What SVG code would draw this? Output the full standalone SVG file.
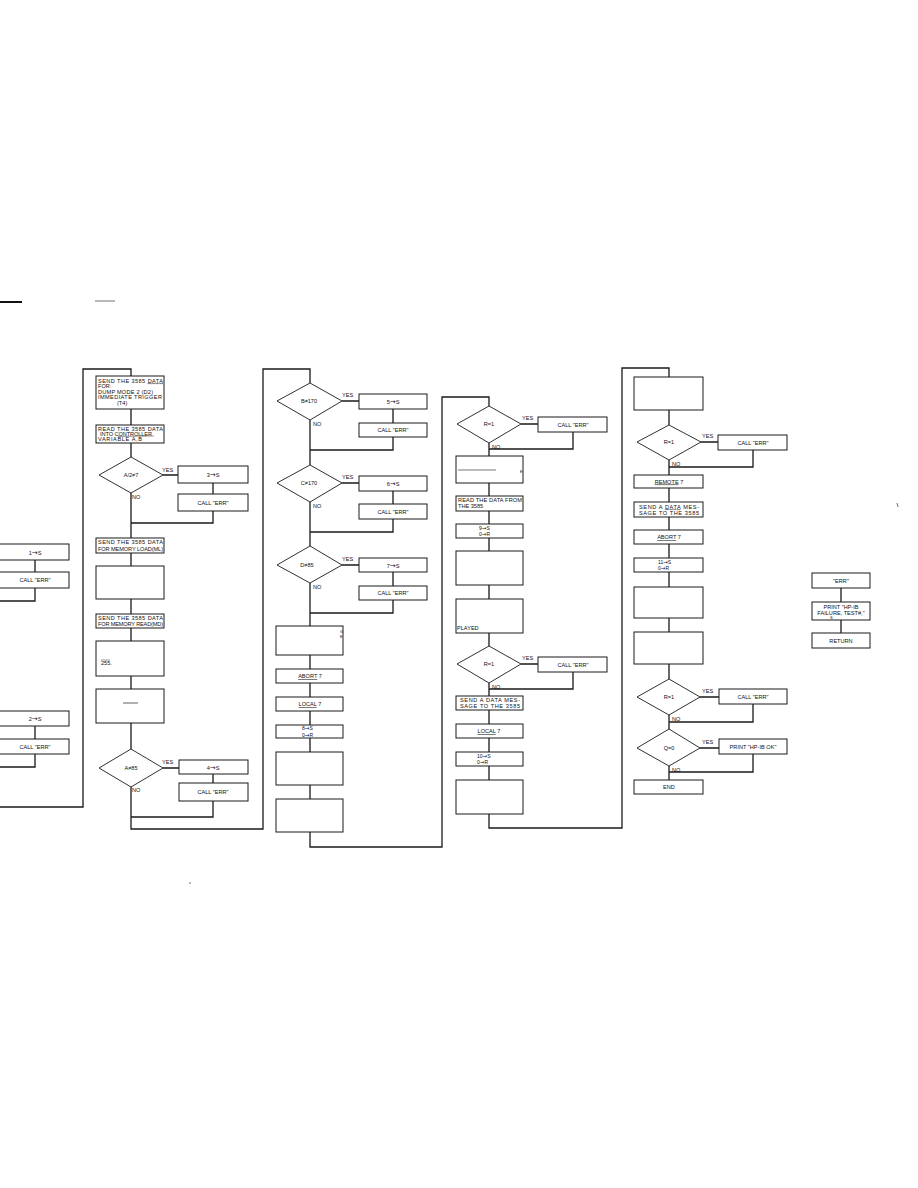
<svg xmlns="http://www.w3.org/2000/svg" width="918" height="1188" viewBox="0 0 918 1188" xml:space="preserve">
<style>
.b{fill:none;stroke:#1a1a1a;stroke-width:1}
.c{fill:none;stroke:#1a1a1a;stroke-width:1.3}
.d{fill:#fff;stroke:#1a1a1a;stroke-width:0.9}
text{font-family:"Liberation Sans",Arial,sans-serif;font-size:5.6px;fill:#111}
.m{text-anchor:middle}
.u{text-decoration:underline}
.ar{font-family:"DejaVu Sans",sans-serif;font-size:7px}
.sm{font-size:5px}
.sm .ar{font-size:5.5px}
</style>
<rect width="918" height="1188" fill="#fff"/>
<g id="marks">
<line x1="0" y1="302" x2="22" y2="302" stroke="#111" stroke-width="2"/>
<line x1="95" y1="301" x2="115" y2="301" stroke="#333" stroke-width="0.7"/>
<circle cx="190" cy="883" r="0.7" fill="#333"/>
<line x1="897" y1="503" x2="898" y2="507" stroke="#333" stroke-width="0.7"/>
</g>
<g id="connectors">
<path class="c" d="M35 560V572M35 588V601H0M35 726V739M35 754V767H0"/>
<path class="c" d="M0 807H83V369H131V376M131 409V425M131 443V457M163 475H178M213 483V494M213 511V523H131M131 493V538M131 553V566M131 599V614M131 628V641M131 676V689M131 723V749M163 768H179M213 774V783M213 801V817H131M131 787V829H263V369H310V383"/>
<path class="c" d="M342 401H359M393 409V423M393 437V450H310M310 420V465M342 483H359M393 491V504M393 519V532H310M310 502V546M342 565H359M393 572V586M393 600V613H310M310 583V626M310 655V669M310 683V697M310 711V725M310 738V752M310 785V799M310 832V847H442V397H489V406"/>
<path class="c" d="M521 424H538M573 432V449H489M489 443V456M489 483V496M489 511V524M489 538V551M489 585V599M489 633V646M521 664H538M573 672V689H489M489 683V696M489 710V724M489 738V752M489 766V780M489 814V828H622V368H669V377"/>
<path class="c" d="M669 410V425M701 442H718M753 450V467H669M669 460V475M669 488V502M669 517V530M669 544V558M669 572V587M669 618V632M669 664V679M700 697H719M753 704V722H669M669 715V729M700 748H719M753 754V772H669M669 766V780"/>
<path class="c" d="M841 588V602M841 620V633"/>
</g>
<g id="c1-s1"><rect class="b" x="-2" y="544" width="71" height="16"/><text class="m" x="35" y="554.5">1<tspan class="ar">→</tspan>S</text></g>
<g id="c1-err1"><rect class="b" x="-2" y="572" width="71" height="16"/><text class="m" x="35" y="582">CALL  "ERR"</text></g>
<g id="c1-s2"><rect class="b" x="-2" y="711" width="71" height="15"/><text class="m" x="35" y="721">2<tspan class="ar">→</tspan>S</text></g>
<g id="c1-err2"><rect class="b" x="-2" y="739" width="71" height="15"/><text class="m" x="35" y="748.5">CALL  "ERR"</text></g>

<g id="n-send-dump"><rect class="b" x="96" y="376" width="68" height="33"/>
<text x="98" y="382.5" textLength="65">SEND THE 3585 <tspan class="u">DATA</tspan></text>
<text x="98" y="388">FOR:</text>
<text x="98" y="393.5" textLength="55">DUMP MODE 2 (D2)</text>
<text x="98" y="399" textLength="64">IMMEDIATE TRIGGER</text>
<text x="117" y="404.5">(T4)</text></g>
<g id="n-read-ab"><rect class="b" x="96" y="425" width="68" height="18"/>
<text x="98" y="430.5" textLength="65">READ THE 3585 DATA</text>
<text x="100" y="435.5" textLength="52">INTO CONTROLLER</text>
<line x1="118" y1="436.5" x2="154" y2="436" stroke="#333" stroke-width="0.5"/>
<text x="98" y="441" textLength="44">VARIABLE A,B</text></g>
<g id="d-a2"><polygon class="d" points="131,457 163,475 131,493 99,475"/><text class="m" x="131" y="477">A/2≠7</text>
<text x="162" y="472">YES</text><text x="132" y="499">NO</text></g>
<g id="n-3s"><rect class="b" x="178" y="466" width="70" height="17"/><text class="m" x="213" y="477">3<tspan class="ar">→</tspan>S</text></g>
<g id="n-err3"><rect class="b" x="178" y="494" width="70" height="17"/><text class="m" x="213" y="504.5">CALL  "ERR"</text></g>
<g id="n-send-ml"><rect class="b" x="96" y="538" width="68" height="15"/>
<text x="98" y="544" textLength="65">SEND THE 3585 DATA</text>
<text x="98" y="550.5" textLength="65">FOR MEMORY LOAD(ML)</text></g>
<g id="n-empty1"><rect class="b" x="96" y="566" width="68" height="33"/></g>
<g id="n-send-md"><rect class="b" x="96" y="614" width="68" height="14"/>
<text x="98" y="619.5" textLength="65">SEND THE 3585 DATA</text>
<text x="98" y="626" textLength="65">FOR MEMORY READ(MD)</text></g>
<g id="n-255"><rect class="b" x="96" y="641" width="68" height="35"/><text x="101" y="665">255.</text><line x1="101" y1="660" x2="110" y2="660" stroke="#333" stroke-width="0.5"/></g>
<g id="n-empty2"><rect class="b" x="96" y="689" width="68" height="34"/><line x1="123" y1="703" x2="138" y2="703" stroke="#1a1a1a" stroke-width="0.7"/></g>
<g id="d-a85"><polygon class="d" points="131,749 163,768 131,787 99,768"/><text class="m" x="131" y="770">A≠85</text>
<text x="162" y="764">YES</text><text x="132" y="792">NO</text></g>
<g id="n-4s"><rect class="b" x="179" y="760" width="69" height="14"/><text class="m" x="213" y="769.5">4<tspan class="ar">→</tspan>S</text></g>
<g id="n-err4"><rect class="b" x="179" y="783" width="69" height="18"/><text class="m" x="213" y="794">CALL  "ERR"</text></g>

<g id="d-b170"><polygon class="d" points="310,383 342,401 310,420 277,401"/><text class="m" x="309" y="403">B≠170</text>
<text x="342" y="397">YES</text><text x="313" y="426">NO</text></g>
<g id="n-5s"><rect class="b" x="359" y="394" width="68" height="15"/><text class="m" x="393" y="404">5<tspan class="ar">→</tspan>S</text></g>
<g id="n-err5"><rect class="b" x="359" y="423" width="68" height="14"/><text class="m" x="393" y="432">CALL  "ERR"</text></g>
<g id="d-c170"><polygon class="d" points="310,465 342,483 310,502 277,483"/><text class="m" x="309" y="485">C≠170</text>
<text x="342" y="479">YES</text><text x="313" y="508">NO</text></g>
<g id="n-6s"><rect class="b" x="359" y="476" width="68" height="15"/><text class="m" x="393" y="486">6<tspan class="ar">→</tspan>S</text></g>
<g id="n-err6"><rect class="b" x="359" y="504" width="68" height="15"/><text class="m" x="393" y="513.5">CALL  "ERR"</text></g>
<g id="d-d85"><polygon class="d" points="310,546 342,565 310,583 277,565"/><text class="m" x="307" y="567">D≠85</text>
<text x="342" y="561">YES</text><text x="313" y="589">NO</text></g>
<g id="n-7s"><rect class="b" x="359" y="558" width="68" height="14"/><text class="m" x="393" y="567.5">7<tspan class="ar">→</tspan>S</text></g>
<g id="n-err7"><rect class="b" x="359" y="586" width="68" height="14"/><text class="m" x="393" y="595">CALL  "ERR"</text></g>
<g id="n-box-ge"><rect class="b" x="276" y="626" width="67" height="29"/><text x="340" y="633" style="font-size:4px">G</text><text x="340" y="638" style="font-size:4px">E</text></g>
<g id="n-abort1"><rect class="b" x="276" y="669" width="67" height="14"/><text class="m" x="310" y="678"><tspan class="u">ABORT</tspan>  7</text></g>
<g id="n-local1"><rect class="b" x="276" y="697" width="67" height="14"/><text class="m" x="310" y="706"><tspan class="u">LOCAL</tspan>  7</text></g>
<g id="n-8s"><rect class="b" x="276" y="725" width="67" height="13"/><text class="sm" x="302" y="730.3">8<tspan class="ar">→</tspan>S</text><text class="sm" x="302" y="736.6">0<tspan class="ar">→</tspan>R</text></g>
<g id="n-empty3"><rect class="b" x="276" y="752" width="67" height="33"/></g>
<g id="n-empty4"><rect class="b" x="276" y="799" width="67" height="33"/></g>

<g id="d-r1a"><polygon class="d" points="489,406 521,424 489,443 457,424"/><text class="m" x="489" y="426">R=1</text>
<text x="522" y="420">YES</text><text x="492" y="448.5">NO</text></g>
<g id="n-err8"><rect class="b" x="538" y="417" width="69" height="15"/><text class="m" x="573" y="426.5">CALL  "ERR"</text></g>
<g id="n-box-e"><rect class="b" x="456" y="456" width="67" height="27"/><line x1="458" y1="470" x2="496" y2="470" stroke="#1a1a1a" stroke-width="0.6"/><text x="520" y="473" style="font-size:4px">E</text></g>
<g id="n-read-data"><rect class="b" x="456" y="496" width="67" height="15"/>
<text x="458" y="502" textLength="64">READ THE DATA FROM</text><text x="458" y="508">THE 3585</text></g>
<g id="n-9s"><rect class="b" x="456" y="524" width="67" height="14"/><text class="sm" x="479" y="529.5">9<tspan class="ar">→</tspan>S</text><text class="sm" x="479" y="536.2">0<tspan class="ar">→</tspan>R</text></g>
<g id="n-empty5"><rect class="b" x="456" y="551" width="67" height="34"/></g>
<g id="n-played"><rect class="b" x="456" y="599" width="67" height="34"/><text x="457" y="630">PLAYED</text></g>
<g id="d-r1b"><polygon class="d" points="489,646 521,664 489,683 457,664"/><text class="m" x="489" y="666">R=1</text>
<text x="522" y="660">YES</text><text x="492" y="688.5">NO</text></g>
<g id="n-err9"><rect class="b" x="538" y="657" width="69" height="15"/><text class="m" x="573" y="666.5">CALL  "ERR"</text></g>
<g id="n-send-msg1"><rect class="b" x="456" y="696" width="67" height="14"/>
<text x="460" y="702" textLength="60">SEND A DATA MES-</text><text x="460" y="708" textLength="60">SAGE TO THE 3585</text></g>
<g id="n-local2"><rect class="b" x="456" y="724" width="67" height="14"/><text class="m" x="489" y="733"><tspan class="u">LOCAL</tspan>  7</text></g>
<g id="n-10s"><rect class="b" x="456" y="752" width="67" height="14"/><text class="sm" x="477" y="757.5">10<tspan class="ar">→</tspan>S</text><text class="sm" x="477" y="764.2">0<tspan class="ar">→</tspan>R</text></g>
<g id="n-empty6"><rect class="b" x="456" y="780" width="67" height="34"/></g>

<g id="n-empty7"><rect class="b" x="634" y="377" width="69" height="33"/></g>
<g id="d-r1c"><polygon class="d" points="669,425 701,442 669,460 637,442"/><text class="m" x="669" y="444">R=1</text>
<text x="702" y="438">YES</text><text x="672" y="466">NO</text></g>
<g id="n-err10"><rect class="b" x="718" y="435" width="69" height="15"/><text class="m" x="753" y="444.5">CALL  "ERR"</text></g>
<g id="n-remote"><rect class="b" x="634" y="475" width="69" height="13"/><text class="m" x="669" y="483.5"><tspan class="u">REMOTE</tspan>  7</text></g>
<g id="n-send-msg2"><rect class="b" x="634" y="502" width="69" height="15"/>
<text x="639" y="508.5" textLength="60">SEND A <tspan class="u">DATA</tspan> MES-</text><text x="639" y="514.5" textLength="60">SAGE TO THE 3585</text></g>
<g id="n-abort2"><rect class="b" x="634" y="530" width="69" height="14"/><text class="m" x="669" y="539"><tspan class="u">ABORT</tspan>  7</text></g>
<g id="n-11s"><rect class="b" x="634" y="558" width="69" height="14"/><text class="sm" x="658" y="563.5">11<tspan class="ar">→</tspan>S</text><text class="sm" x="658" y="570.2">0<tspan class="ar">→</tspan>R</text></g>
<g id="n-empty8"><rect class="b" x="634" y="587" width="69" height="31"/></g>
<g id="n-empty9"><rect class="b" x="634" y="632" width="69" height="32"/></g>
<g id="d-r1d"><polygon class="d" points="669,679 700,697 669,715 637,697"/><text class="m" x="669" y="699">R=1</text>
<text x="702" y="692.5">YES</text><text x="672" y="721">NO</text></g>
<g id="n-err11"><rect class="b" x="719" y="689" width="68" height="15"/><text class="m" x="753" y="698.5">CALL  "ERR"</text></g>
<g id="d-q0"><polygon class="d" points="669,729 700,748 669,766 637,748"/><text class="m" x="669" y="750">Q=0</text>
<text x="702" y="743.5">YES</text><text x="672" y="771.5">NO</text></g>
<g id="n-print-ok"><rect class="b" x="719" y="739" width="68" height="15"/><text class="m" x="753" y="748.5">PRINT "HP-IB OK"</text></g>
<g id="n-end"><rect class="b" x="634" y="780" width="69" height="14"/><text class="m" x="669" y="789">END</text></g>

<g id="n-err-sub"><rect class="b" x="812" y="573" width="58" height="15"/><text class="m" x="841" y="582.5">"ERR"</text></g>
<g id="n-print-fail"><rect class="b" x="812" y="602" width="58" height="18"/>
<text class="m" x="841" y="609">PRINT "HP-IB</text><text class="m" x="841" y="615">FAILURE, TEST#,"</text><text x="830" y="619" style="font-size:4px">S</text></g>
<g id="n-return"><rect class="b" x="812" y="633" width="58" height="15"/><text class="m" x="841" y="642.5">RETURN</text></g>
</svg>
